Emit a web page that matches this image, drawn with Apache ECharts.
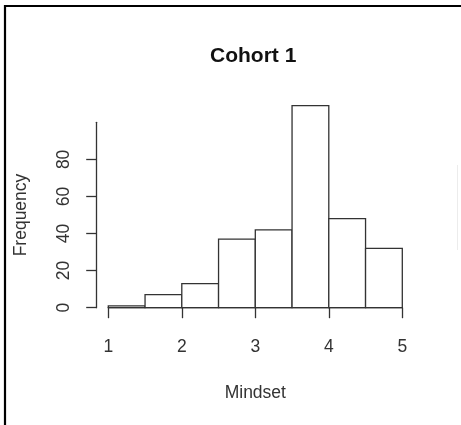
<!DOCTYPE html>
<html>
<head>
<meta charset="utf-8">
<script src="https://cdn.jsdelivr.net/npm/echarts@6/dist/echarts.min.js"></script>
<style>
  html, body { margin: 0; padding: 0; background: #fff; }
  #chart { width: 461px; height: 425px; }
</style>
</head>
<body>
<div id="chart"></div>
<script>
// Histogram of Mindset scores, bins of width 0.5
const binStarts = [1, 1.5, 2, 2.5, 3, 3.5, 4, 4.5];
const binWidth = 0.5;
const counts = [1, 7, 13, 37, 42, 109, 48, 32];
const xTicks = [1, 2, 3, 4, 5];
const yTicks = [0, 20, 40, 60, 80, 100];

const font = '"Liberation Sans", Arial, Helvetica, sans-serif';
const ink = '#333';

const chart = echarts.init(document.getElementById('chart'), null, { renderer: 'canvas' });

chart.setOption({
  animation: false,
  backgroundColor: '#fff',
  title: {
    text: 'Cohort 1',
    left: 205,
    top: 41,
    textStyle: { fontFamily: font, fontWeight: 'bold', fontSize: 21, color: '#111' }
  },
  grid: { left: 108.3, right: 58.7, top: 122.3, bottom: 117.3 },
  xAxis: {
    type: 'value',
    min: xTicks[0],
    max: xTicks[xTicks.length - 1],
    interval: 1,
    offset: 8.3,
    name: 'Mindset',
    nameLocation: 'middle',
    nameGap: 68,
    nameTextStyle: { fontFamily: font, fontSize: 17.5, color: ink },
    axisLine: { show: true, lineStyle: { color: ink, width: 1.3 } },
    axisTick: { show: true, length: 10.5, lineStyle: { color: ink, width: 1.3 } },
    axisLabel: { fontFamily: font, fontSize: 17.5, color: ink, margin: 22 },
    splitLine: { show: false }
  },
  yAxis: {
    type: 'value',
    min: yTicks[0],
    max: yTicks[yTicks.length - 1],
    interval: 20,
    offset: 11.6,
    name: 'Frequency',
    nameLocation: 'middle',
    nameGap: 67,
    nameRotate: 90,
    nameTextStyle: { fontFamily: font, fontSize: 17.5, color: ink },
    axisLine: { show: true, lineStyle: { color: ink, width: 1.3 } },
    axisTick: { show: true, length: 10.5, lineStyle: { color: ink, width: 1.3 } },
    axisLabel: {
      fontFamily: font, fontSize: 17.5, color: ink, margin: 24, rotate: 90,
      showMaxLabel: false
    },
    splitLine: { show: false }
  },
  series: [{
    type: 'custom',
    clip: false,
    data: binStarts.map((s, i) => [s, s + binWidth, counts[i]]),
    renderItem: function (params, api) {
      const p0 = api.coord([api.value(0), 0]);
      const p1 = api.coord([api.value(1), api.value(2)]);
      return {
        type: 'rect',
        shape: { x: p0[0], y: p1[1], width: p1[0] - p0[0], height: p0[1] - p1[1] },
        style: { fill: '#fff', stroke: ink, lineWidth: 1.3 }
      };
    }
  }],
  graphic: [
    { type: 'line', shape: { x1: 4, y1: 6, x2: 461, y2: 6 }, style: { stroke: '#000', lineWidth: 2.2 } },
    { type: 'line', shape: { x1: 5, y1: 5, x2: 5, y2: 425 }, style: { stroke: '#000', lineWidth: 2.2 } },
    { type: 'line', shape: { x1: 457.5, y1: 165, x2: 457.5, y2: 250 }, style: { stroke: '#ececec', lineWidth: 1 } }
  ]
});
</script>
</body>
</html>
